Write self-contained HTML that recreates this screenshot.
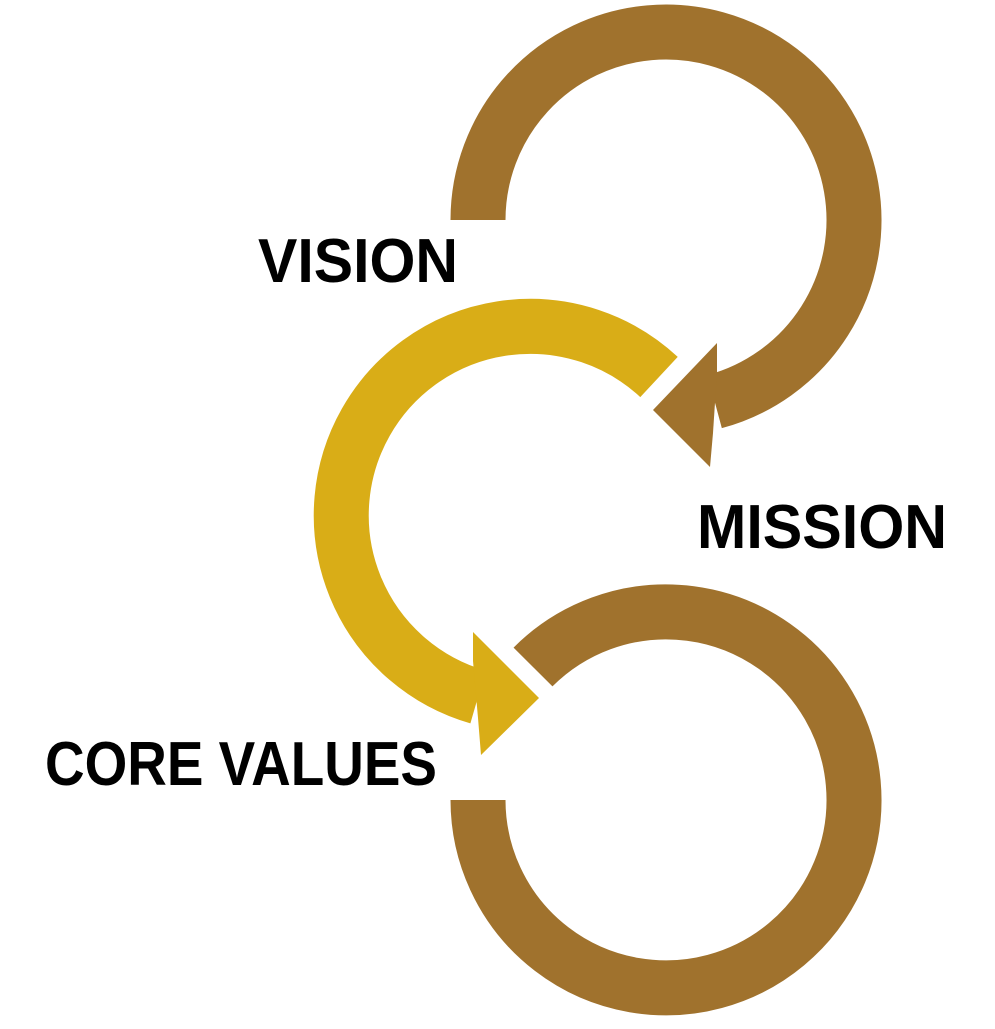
<!DOCTYPE html>
<html><head><style>html,body{margin:0;padding:0;background:#fff}</style></head>
<body>
<svg width="995" height="1024" viewBox="0 0 995 1024" xmlns="http://www.w3.org/2000/svg">
<g fill="none" stroke-width="55" stroke-linecap="butt">
<path d="M478,220 A188,188 0 1 1 714.7,401.6" stroke="#A0722D"/>
<path d="M659,377 A189,189 0 1 0 478,697" stroke="#D9AD17"/>
<path d="M533,667 A188,188 0 1 1 478,800" stroke="#A0722D"/>
</g>
<polygon points="717,343 653,410 710,467 713,433 717,372" fill="#A0722D"/>
<polygon points="473,632 539,698 481,755 478,718 473,661" fill="#D9AD17"/>
<g font-family="Liberation Sans, sans-serif" font-weight="bold" font-size="62" fill="#000">
<text x="258" y="282" textLength="200" lengthAdjust="spacingAndGlyphs">VISION</text>
<text x="697" y="548" textLength="250" lengthAdjust="spacingAndGlyphs">MISSION</text>
<text x="45" y="785" textLength="392" lengthAdjust="spacingAndGlyphs">CORE VALUES</text>
</g>
</svg>
</body></html>
